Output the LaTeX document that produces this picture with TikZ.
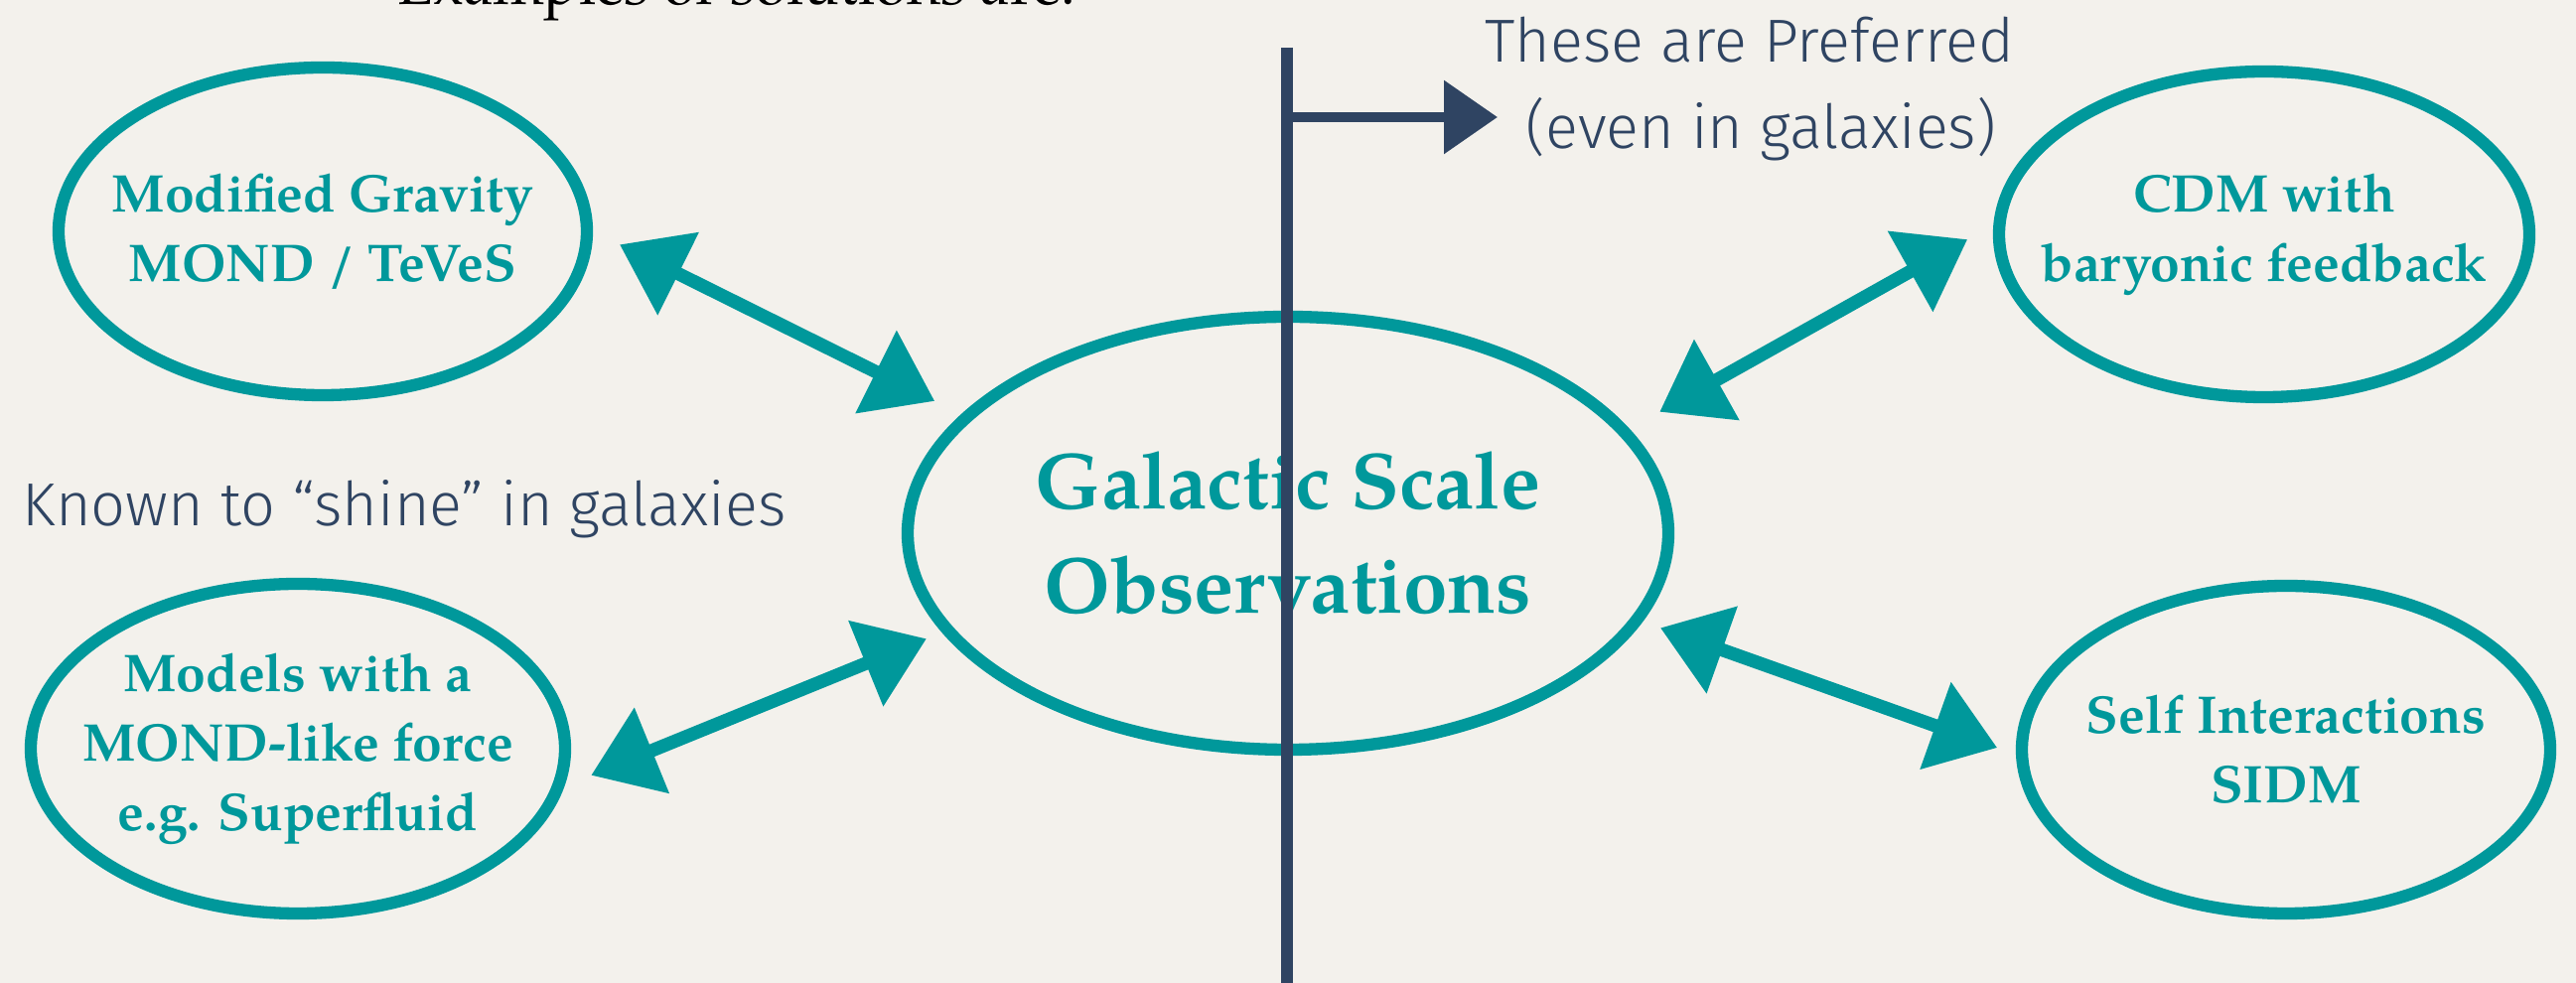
\documentclass[tikz,border=0pt]{standalone}
\usepackage{fontspec}
\setmainfont{TeX Gyre Pagella}
\newfontfamily\handfont{Fira Sans Light}
\usetikzlibrary{shapes.geometric,arrows.meta}
\definecolor{chalkteal}{RGB}{0,152,155}
\definecolor{inknavy}{RGB}{47,68,98}
\definecolor{paper}{RGB}{243,241,236}

\begin{document}
\begin{tikzpicture}
      \tikzstyle{blob}=[ellipse,draw=chalkteal,line width=3.5pt,text=chalkteal,align=center,inner xsep=-0.6cm,inner ysep=0pt,font=\bfseries\fontsize{15.2}{19.9}\selectfont]
      \tikzstyle{link}=[chalkteal,line width=3.8pt,{Triangle[length=0.66cm,width=0.9cm]}-{Triangle[length=0.66cm,width=0.9cm]}]
      \tikzstyle{hand}=[text=inknavy,inner sep=0pt,anchor=base west,font=\handfont\fontsize{17.4}{24.8}\selectfont]
      \fill[paper] (0,0) rectangle (25.94,9.90);
      \useasboundingbox (0,0) rectangle (25.94,9.90);
      \node[anchor=base west,inner sep=0pt,font=\fontsize{16.8}{19}\selectfont] (Ex) at (4.00,9.85) {Examples of solutions are:};
      \node[blob,minimum width=5.32cm,minimum height=3.30cm] (MG) at (3.25,7.57) {Modified Gravity\\MOND / TeVeS};
      \node[blob,minimum width=5.38cm,minimum height=3.32cm] (MLF) at (3.00,2.36) {Models with a\\MOND-like force\\e.g. Superfluid};
      \node[blob,minimum width=7.66cm,minimum height=4.36cm,font=\bfseries\fontsize{22.8}{30}\selectfont] (Obs) at (12.97,4.53) {Galactic Scale\\Observations};
      \node[blob,minimum width=5.34cm,minimum height=3.28cm] (CDM) at (22.80,7.54) {CDM with\\baryonic feedback};
      \node[blob,minimum width=5.32cm,minimum height=3.30cm] (SIDM) at (23.02,2.35) {Self Interactions\\SIDM};
      \draw[link,shorten <=0.3cm,shorten >=0.3cm] (MG.0) -- (Obs.160);
      \draw[link,shorten <=0.29cm,shorten >=0.17cm] (MLF.-8.5) -- (Obs.196);
      \draw[link,shorten <=0.35cm,shorten >=0.3cm] (Obs.17) -- (CDM.178);
      \draw[link,shorten <=0.19cm,shorten >=0.2cm] (Obs.-14) -- (SIDM.181);
      \node[hand] (Pref_1) at (14.95,9.27) {These are Preferred};
      \node[hand] (Pref_2) at (15.36,8.40) {(even in galaxies)};
      \node[hand] (Shine) at (0.22,4.60) {Known to “shine” in galaxies};
      \coordinate (Top) at (12.96,9.42);
      \coordinate (Bot) at (12.96,-0.2);
      \coordinate (Fork) at (12.96,8.72);
      \draw[inknavy,line width=3.4pt] (Top) -- (Bot);
      \draw[inknavy,line width=2.8pt,shorten >=0.28cm,-{Triangle[length=0.54cm,width=0.72cm]}] (Fork) -- (Fork -| Pref_2.west);
    \end{tikzpicture}
\end{document}
